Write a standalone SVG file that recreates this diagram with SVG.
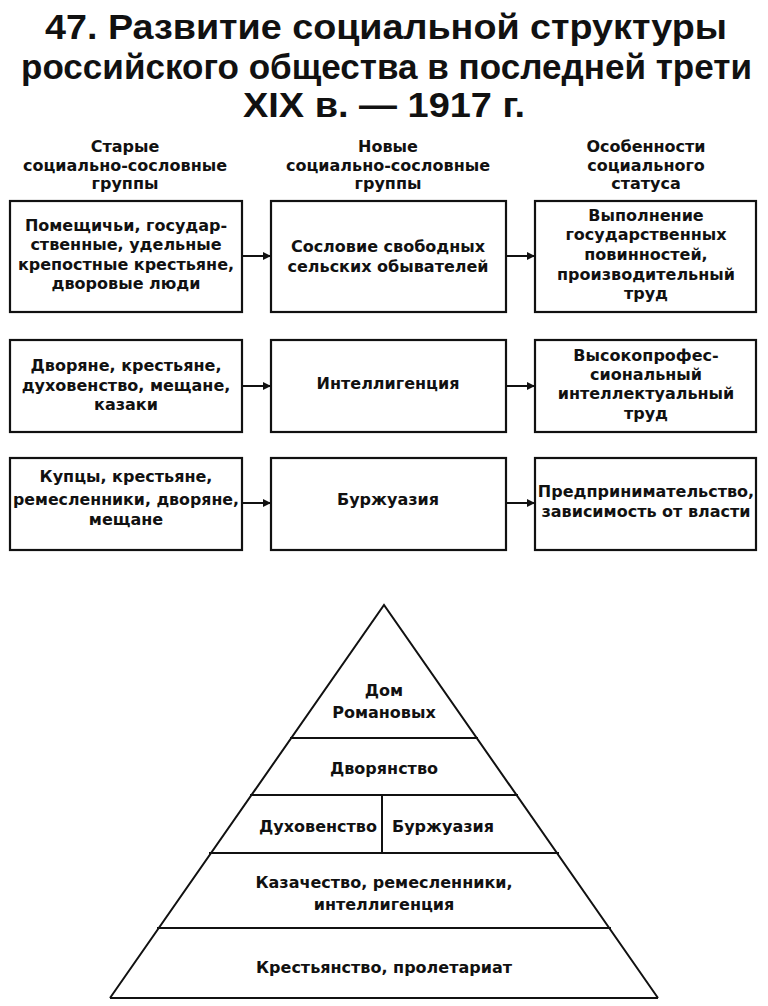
<svg xmlns="http://www.w3.org/2000/svg" width="768" height="1006" viewBox="0 0 768 1006">
<defs>
<style>
.title{font-family:"Liberation Sans",Arial,sans-serif;font-weight:bold;font-size:35px;fill:#111;}
.t{font-family:"DejaVu Sans","Liberation Sans",Arial,sans-serif;font-weight:bold;font-size:16px;fill:#111;text-anchor:middle;}
.p{font-family:"DejaVu Sans","Liberation Sans",Arial,sans-serif;font-weight:bold;font-size:16px;fill:#111;text-anchor:middle;}
.box{fill:#fff;stroke:#111;stroke-width:2.2;}
.ln{stroke:#111;stroke-width:2;fill:none;}
.arr{stroke:#111;stroke-width:2;fill:none;marker-end:url(#ah);}
</style>
<marker id="ah" viewBox="0 0 10 10" refX="10" refY="5" markerWidth="5" markerHeight="4" orient="auto" markerUnits="strokeWidth">
<path d="M0,0 L10,5 L0,10 z" fill="#111"/>
</marker>
</defs>
<rect width="768" height="1006" fill="#fff"/>
<g id="title">
<text class="title" x="45" y="39" textLength="682" lengthAdjust="spacingAndGlyphs">47. Развитие социальной структуры</text>
<text class="title" x="21" y="79" textLength="731" lengthAdjust="spacingAndGlyphs">российского общества в последней трети</text>
<text class="title" x="243" y="117" textLength="282" lengthAdjust="spacingAndGlyphs">XIX в. — 1917 г.</text>
</g>
<g id="headers">
<text class="t" x="125" y="152">Старые</text>
<text class="t" x="125" y="171">социально-сословные</text>
<text class="t" x="125" y="189">группы</text>
<text class="t" x="388" y="152">Новые</text>
<text class="t" x="388" y="171">социально-сословные</text>
<text class="t" x="388" y="189">группы</text>
<text class="t" x="646" y="152">Особенности</text>
<text class="t" x="646" y="171">социального</text>
<text class="t" x="646" y="189">статуса</text>
</g>
<g id="connectors">
<line class="arr" x1="242" y1="256" x2="271" y2="256"/>
<line class="arr" x1="506" y1="256" x2="535" y2="256"/>
<line class="arr" x1="242" y1="386" x2="271" y2="386"/>
<line class="arr" x1="506" y1="386" x2="535" y2="386"/>
<line class="arr" x1="242" y1="503" x2="271" y2="503"/>
<line class="arr" x1="506" y1="503" x2="535" y2="503"/>
</g>
<g id="old1">
<rect class="box" x="10" y="201" width="232" height="111"/>
<text class="t" x="126" y="231">Помещичьи, государ-</text>
<text class="t" x="126" y="250">ственные, удельные</text>
<text class="t" x="126" y="270">крепостные крестьяне,</text>
<text class="t" x="126" y="289">дворовые люди</text>
</g>
<g id="new1">
<rect class="box" x="271" y="201" width="235" height="111"/>
<text class="t" x="388" y="252">Сословие свободных</text>
<text class="t" x="388" y="272">сельских обывателей</text>
</g>
<g id="stat1">
<rect class="box" x="535" y="201" width="221" height="111"/>
<text class="t" x="646" y="221">Выполнение</text>
<text class="t" x="646" y="240">государственных</text>
<text class="t" x="646" y="260">повинностей,</text>
<text class="t" x="646" y="280">производительный</text>
<text class="t" x="646" y="299">труд</text>
</g>
<g id="old2">
<rect class="box" x="10" y="340" width="232" height="92"/>
<text class="t" x="126" y="371">Дворяне, крестьяне,</text>
<text class="t" x="126" y="391">духовенство, мещане,</text>
<text class="t" x="126" y="410">казаки</text>
</g>
<g id="new2">
<rect class="box" x="271" y="340" width="235" height="92"/>
<text class="t" x="388" y="389">Интеллигенция</text>
</g>
<g id="stat2">
<rect class="box" x="535" y="340" width="221" height="92"/>
<text class="t" x="646" y="361">Высокопрофес-</text>
<text class="t" x="646" y="380">сиональный</text>
<text class="t" x="646" y="399">интеллектуальный</text>
<text class="t" x="646" y="419">труд</text>
</g>
<g id="old3">
<rect class="box" x="10" y="458" width="232" height="92"/>
<text class="t" x="126" y="482">Купцы, крестьяне,</text>
<text class="t" x="126" y="505" textLength="226" lengthAdjust="spacingAndGlyphs">ремесленники, дворяне,</text>
<text class="t" x="126" y="525">мещане</text>
</g>
<g id="new3">
<rect class="box" x="271" y="458" width="235" height="92"/>
<text class="t" x="388" y="505">Буржуазия</text>
</g>
<g id="stat3">
<rect class="box" x="535" y="458" width="221" height="92"/>
<text class="t" x="646" y="497">Предпринимательство,</text>
<text class="t" x="646" y="517">зависимость от власти</text>
</g>
<g id="pyramid">
<path class="ln" d="M110,998 L384,605 L658,998"/>
<line class="ln" x1="290" y1="738" x2="478" y2="738"/>
<line class="ln" x1="250" y1="795" x2="518" y2="795"/>
<line class="ln" x1="209" y1="853" x2="559" y2="853"/>
<line class="ln" x1="157" y1="928" x2="611" y2="928"/>
<line class="ln" x1="110" y1="998" x2="658" y2="998"/>
<line class="ln" x1="382" y1="795" x2="382" y2="853"/>
</g>
<g id="romanov">
<text class="p" x="384" y="696">Дом</text>
<text class="p" x="384" y="718">Романовых</text>
</g>
<g id="dvoryanstvo"><text class="p" x="384" y="774">Дворянство</text></g>
<g id="duhovenstvo"><text class="p" x="318" y="832">Духовенство</text></g>
<g id="burzhuaziya"><text class="p" x="443" y="832">Буржуазия</text></g>
<g id="kazachestvo">
<text class="p" x="384" y="888">Казачество, ремесленники,</text>
<text class="p" x="384" y="910">интеллигенция</text>
</g>
<g id="krestyanstvo"><text class="p" x="384" y="973">Крестьянство, пролетариат</text></g>
</svg>
